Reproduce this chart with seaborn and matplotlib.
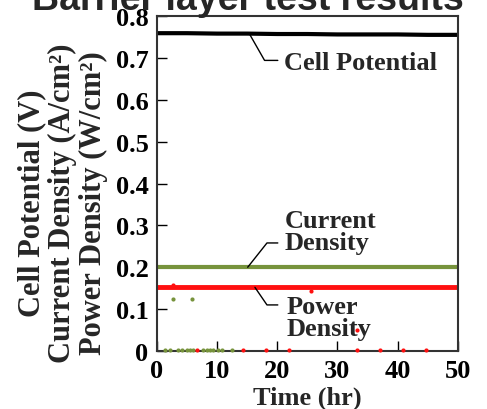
import numpy as np
import pandas as pd
import matplotlib
matplotlib.use("Agg")
import matplotlib.pyplot as plt
import seaborn as sns

# DATA
time_hr = [0, 2, 5, 10, 15, 20, 25, 30, 35, 40, 45, 50]
cell_potential = [0.759, 0.759, 0.759, 0.758, 0.758, 0.757, 0.757, 0.756, 0.756, 0.756, 0.755, 0.755]
current_density = [0.200, 0.200, 0.200, 0.200, 0.200, 0.200, 0.200, 0.200, 0.200, 0.200, 0.200, 0.200]
power_density = [0.152, 0.152, 0.152, 0.152, 0.152, 0.152, 0.152, 0.152, 0.152, 0.152, 0.152, 0.152]

# stray points
cd_out_t = [2.7, 5.8, 1.3, 2.2, 3.5, 4.2, 5.0, 5.5, 6.0, 7.6, 8.3, 8.8, 9.3, 10.1, 10.8, 12.5]
cd_out_v = [0.124, 0.124, 0.003, 0.003, 0.003, 0.003, 0.003, 0.003, 0.003, 0.003, 0.003, 0.003, 0.003, 0.003, 0.003, 0.003]
pd_out_t = [2.7, 25.6, 33.2, 6.6, 14.3, 18.1, 21.9, 33.2, 37.0, 40.9, 44.7]
pd_out_v = [0.157, 0.143, 0.05, 0.003, 0.003, 0.003, 0.003, 0.003, 0.003, 0.003, 0.003]

x_ticks = [0, 10, 20, 30, 40, 50]
y_ticks = [0, 0.1, 0.2, 0.3, 0.4, 0.5, 0.6, 0.7, 0.8]
y_ticklabels = ["0", "0.1", "0.2", "0.3", "0.4", "0.5", "0.6", "0.7", "0.8"]

GREEN = "#77933C"
RED = "#FF1010"

sns.set_style("ticks")
plt.rcParams["font.family"] = ["Liberation Serif", "DejaVu Serif"]
plt.rcParams["font.weight"] = "bold"

df = pd.DataFrame({"t": time_hr, "cp": cell_potential,
                   "cd": current_density, "pd": power_density})

fig = plt.figure(figsize=(4.87, 4.10), dpi=100)
ax = fig.add_axes([0.322, 0.1415, 0.618, 0.817])

sns.lineplot(data=df, x="t", y="cp", ax=ax, color="black", lw=3)
sns.lineplot(data=df, x="t", y="cd", ax=ax, color=GREEN, lw=3)
sns.lineplot(data=df, x="t", y="pd", ax=ax, color=RED, lw=3.5)
sns.scatterplot(x=cd_out_t, y=cd_out_v, ax=ax, color=GREEN, s=9, linewidth=0,
                zorder=5, clip_on=False)
sns.scatterplot(x=pd_out_t, y=pd_out_v, ax=ax, color=RED, s=9, linewidth=0,
                zorder=5, clip_on=False)

ax.set_xlim(0, 50)
ax.set_ylim(0, 0.8)
ax.set_xticks(x_ticks)
ax.set_yticks(y_ticks)
ax.set_yticklabels(y_ticklabels)
ax.tick_params(direction="in", length=7, width=1, labelsize=19, colors="black")
ax.tick_params(axis="y", pad=6)
ax.tick_params(axis="x", pad=6)
for lab in ax.get_xticklabels() + ax.get_yticklabels():
    lab.set_fontweight("bold")
for sp in ax.spines.values():
    sp.set_linewidth(1.5)
    sp.set_color("#333333")
    sp.set_visible(True)

ax.set_xlabel("Time (hr)", fontsize=19, fontweight="bold", labelpad=2)
ax.set_ylabel("")
fig.text(0.129, 0.505, "Cell Potential (V)\nCurrent Density (A/cm²)\nPower Density (W/cm²)",
         rotation=90, ha="center", va="center", fontsize=22, fontweight="bold",
         linespacing=1.08)

# leader lines and labels
ax.plot([15.4, 17.9, 20.1], [0.757, 0.694, 0.694], color="black", lw=1)
ax.text(21.2, 0.690, "Cell Potential", fontsize=19, fontweight="bold", va="center")
ax.plot([15.1, 18.3, 20.1], [0.200, 0.258, 0.258], color="black", lw=1)
ax.text(21.3, 0.243, "Current\nDensity", fontsize=19, fontweight="bold",
        va="baseline", linespacing=0.95)
ax.plot([16.3, 18.3, 20.1], [0.152, 0.110, 0.110], color="black", lw=1)
ax.text(21.6, 0.038, "Power\nDensity", fontsize=19, fontweight="bold",
        va="baseline", linespacing=0.95)

fig.text(0.509, 0.975, "Barrier layer test results", ha="center", va="baseline",
         fontsize=27, fontweight="bold", family=["Liberation Sans", "DejaVu Sans"])

fig.savefig("out.png", dpi=100)
